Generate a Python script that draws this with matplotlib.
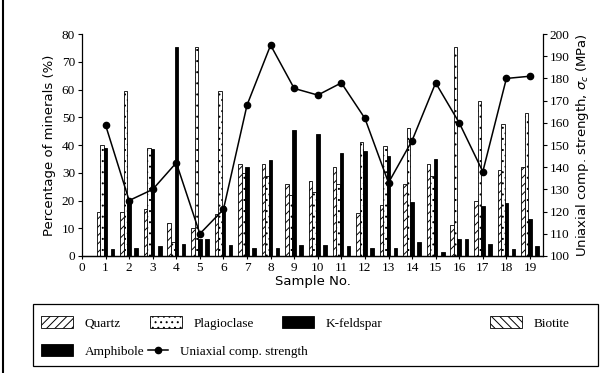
import numpy as np
import matplotlib.pyplot as plt
from matplotlib.patches import Patch, Rectangle
from matplotlib.lines import Line2D

plt.rcParams['font.family'] = ['Liberation Serif', 'DejaVu Serif']
plt.rcParams['hatch.linewidth'] = 0.7

samples = np.arange(1, 20)
quartz = [16, 16, 17, 12, 10, 15, 33, 33, 26, 27, 32, 15.5, 18.5, 26, 33, 11, 20, 31, 32]
plagioclase = [40, 59.5, 39, 5, 75.5, 59.5, 30, 29, 22, 23, 26, 41, 39.5, 46, 29, 75.5, 56, 47.5, 51.5]
kfeldspar = [39, 19, 38.5, 75.5, 6, 18, 32, 34.5, 45.5, 44, 37, 38, 36, 19.5, 35, 6, 18, 19, 13.5]
biotite = [0] * 19
amphibole = [2.5, 3, 3.5, 4.5, 6, 4, 3, 3, 4, 4, 3.5, 3, 3, 5, 1.5, 6, 4.5, 2.5, 3.5]
ucs = [159, 125, 130, 142, 110, 121, 168, 195, 175.5, 172.5, 178, 162, 133, 152, 178, 160, 138, 180, 181]

fig = plt.figure(figsize=(6.01, 3.73), dpi=100)
ax = fig.add_axes([0.1364, 0.3137, 0.767, 0.595])

w = 0.15
styles = [
    ('Quartz', quartz, dict(facecolor='white', hatch='////')),
    ('Plagioclase', plagioclase, dict(facecolor='white', hatch='...')),
    ('K-feldspar', kfeldspar, dict(facecolor='black')),
    ('Biotite', biotite, dict(facecolor='white', hatch='\\\\\\\\')),
    ('Amphibole', amphibole, dict(facecolor='black')),
]
handles = {}
for i, (name, vals, st) in enumerate(styles):
    ax.bar(samples + (i - 2) * w, vals, w, edgecolor='black', linewidth=0.6, **st)
    handles[name] = Patch(edgecolor='black', linewidth=0.6, **st)

ax.set_xlim(0, 19.55)
ax.set_ylim(0, 80)
ax.set_xticks(range(0, 20))
ax.set_yticks(range(0, 81, 10))
ax.spines['top'].set_visible(False)
ax.spines['right'].set_visible(False)
ax.tick_params(axis='both', labelsize=9.5, length=3, width=0.8, pad=2)
ax.tick_params(axis='x', length=2)
ax.set_ylabel('Percentage of minerals (%)', family='DejaVu Sans', fontsize=9.5, labelpad=4)
ax.set_xlabel('Sample No.', family='DejaVu Sans', fontsize=9.5, labelpad=1)

ax2 = ax.twinx()
ax2.plot(samples, ucs, color='black', linewidth=1.1, marker='o', markersize=4.5)
ax2.set_ylim(100, 200)
ax2.set_yticks(range(100, 201, 10))
ax2.spines['top'].set_visible(False)
ax2.spines['left'].set_visible(False)
ax2.tick_params(axis='y', labelsize=9.5, length=3, width=0.8, pad=2)
ax2.set_ylabel(r'Uniaxial comp. strength, $\sigma_c$ (MPa)', family='DejaVu Sans',
               fontsize=9.5, labelpad=3)
for s in ax.spines.values():
    s.set_linewidth(0.9)
for s in ax2.spines.values():
    s.set_linewidth(0.9)

# legend box and left frame line
fig.patches.append(Rectangle((33 / 601, 1 - 366 / 373), 565 / 601, 62 / 373,
                             transform=fig.transFigure, fill=False,
                             edgecolor='black', linewidth=0.9))
fig.add_artist(Line2D([3 / 601, 3 / 601], [0, 1], transform=fig.transFigure,
                      color='black', linewidth=1.5))

line_handle = Line2D([], [], color='black', linewidth=1.1, marker='o', markersize=4.5)
entries = [
    ('Quartz', handles['Quartz'], 41, 323),
    ('Plagioclase', handles['Plagioclase'], 150, 323),
    ('K-feldspar', handles['K-feldspar'], 282, 323),
    ('Biotite', handles['Biotite'], 490, 323),
    ('Amphibole', handles['Amphibole'], 41, 351),
    ('Uniaxial comp. strength', line_handle, 148, 351),
]
for label, h, px, py in entries:
    hl = 1.5 if label == 'Uniaxial comp. strength' else 2.4
    fig.legend([h], [label], loc='center left', bbox_to_anchor=(px / 601, 1 - py / 373),
               frameon=False, fontsize=9.5, handlelength=hl, handleheight=1.0,
               handletextpad=0.9, borderpad=0, borderaxespad=0)

fig.savefig('out.png', dpi=100)
